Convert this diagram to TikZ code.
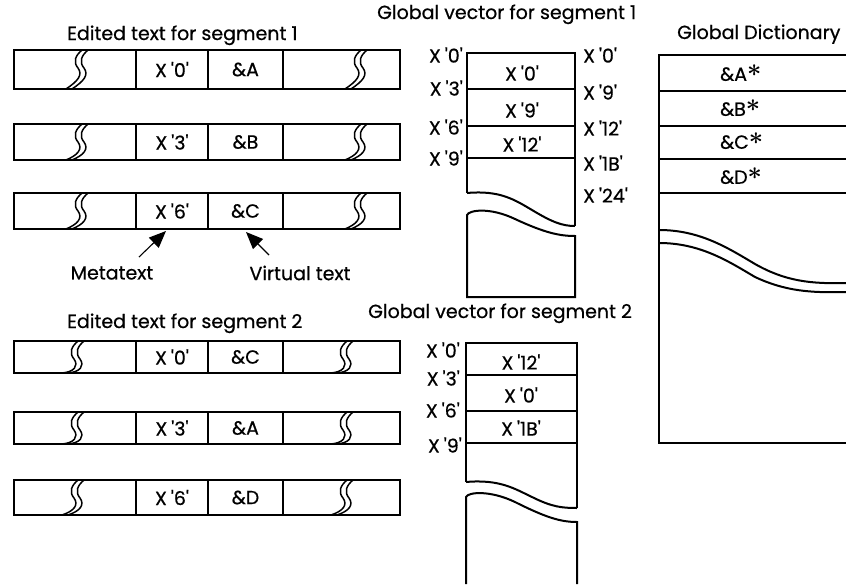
\documentclass[tikz,border=0pt]{standalone}
\usepackage{fontspec}
\newfontfamily\pf{Poppins}[FakeBold=0.6]
\usetikzlibrary{arrows.meta}
\tikzset{
  lbl/.style={font=\pf\fontsize{19}{22}\selectfont, inner sep=0pt},
  cellbox/.style={draw, line width=2pt, inner sep=0pt, font=\pf\fontsize{19}{22}\selectfont},
  brk/.style={line width=1.5pt},
  frame/.style={line width=2pt},
  arr/.style={line width=1.1pt, -{Triangle[length=17pt,width=14pt]}},
}
\newcommand\hx[1]{X\kern4pt'#1'}
\newcommand\dstar{\raisebox{4pt}{\fontsize{24}{24}\selectfont\boldmath$\ast$}}
\newcommand\sbrk[3]{%
  \begin{scope}[shift={(#1,#2)}]
   \foreach \d in {0,6}{
    \draw[brk] (16+\d,0) .. controls (9+\d,6) and (7+\d,12) .. (12+\d,18) .. controls (17+\d,25) and (12+\d,31) .. (0+\d,#3);
   }
  \end{scope}}
\newcommand\erow[7]{%
 \pgfmathsetmacro\ym{(#2+#3)/2}\pgfmathsetmacro\hh{#3-#2}%
 \node[cellbox, minimum width=122pt, minimum height=\hh pt] (#1a) at (75,\ym) {};
 \node[cellbox, minimum width=72pt, minimum height=\hh pt] (#1b) at (172,\ym) {#4};
 \node[cellbox, minimum width=75pt, minimum height=\hh pt] (#1c) at (245.5,\ym) {#5};
 \node[cellbox, minimum width=117pt, minimum height=\hh pt] (#1d) at (341.5,\ym) {};
 \sbrk{#6}{#2}{\hh}
 \sbrk{#7}{#2}{\hh}
}
\begin{document}
\begin{tikzpicture}[x=1pt,y=-1pt]
\fill[white] (0,0) rectangle (846,584);
\useasboundingbox (0,0) rectangle (846,584);

% ---------- titles
\node[lbl, anchor=base west] (t1) at (67,40) {Edited text for segment 1};
\node[lbl, anchor=base west] (t2) at (67,328) {Edited text for segment 2};
\node[lbl, anchor=base west] (t3) at (377,19) {Global vector for segment 1};
\node[lbl, anchor=base west] (t4) at (368,318) {Global vector for segment 2};
\node[lbl, anchor=base west] (t5) at (677,39) {Global Dictionary};

% ---------- edited text rows, segment 1
\erow{sa}{50}{89}{\hx{0}}{\&A}{66}{345}
\erow{sb}{124}{160}{\hx{3}}{\&B}{66}{345}
\erow{sc}{193}{229}{\hx{6}}{\&C}{66}{345}

% ---------- edited text rows, segment 2
\erow{ta}{341}{373}{\hx{0}}{\&C}{62}{331}
\erow{tb}{412}{444}{\hx{3}}{\&A}{62}{331}
\erow{tc}{480}{515}{\hx{6}}{\&D}{62}{331}

% ---------- metatext / virtual text
\node[lbl] (meta) at (112,273) {Metatext};
\node[lbl] (virt) at (300,273) {Virtual text};
\coordinate (mtail) at (139,257);
\coordinate (mtip) at (166,231);
\coordinate (vtail) at (269,255);
\coordinate (vtip) at (246,232);
\draw[arr] (mtail) -- (mtip);
\draw[arr] (vtail) -- (vtip);

% ---------- global vector, segment 1
\draw[frame] (467,193) -- (467,53) -- (575,53) -- (575,226);
\draw[frame] (467,193) .. controls (500,190) and (515,200) .. (532,210) .. controls (552,222) and (562,226) .. (575,226);
\draw[frame] (467,215) .. controls (469,210) and (490,207) .. (515,219) .. controls (545,233) and (560,236) .. (575,236) -- (575,297) -- (467,297) -- cycle;
\draw[frame] (467,89) -- (575,89);
\draw[frame] (467,126) -- (575,126);
\draw[frame] (467,158) -- (575,158);
\node[lbl] (va1) at (522,73) {\hx{0}};
\node[lbl] (va2) at (522,110) {\hx{9}};
\node[lbl] (va3) at (522,144) {\hx{12}};
\node[lbl, anchor=east] (vl0) at (463,55) {\hx{0}};
\node[lbl, anchor=east] (vl3) at (463,88) {\hx{3}};
\node[lbl, anchor=east] (vl6) at (463,127) {\hx{6}};
\node[lbl, anchor=east] (vl9) at (463,158) {\hx{9}};
\node[lbl, anchor=west] (vr0) at (583,55) {\hx{0}};
\node[lbl, anchor=west] (vr9) at (583,92) {\hx{9}};
\node[lbl, anchor=west] (vr12) at (583,128) {\hx{12}};
\node[lbl, anchor=west] (vr1b) at (583,163) {\hx{1B}};
\node[lbl, anchor=west] (vr24) at (583,195) {\hx{24}};

% ---------- global vector, segment 2
\draw[frame] (466,482) -- (466,343) -- (577,343) -- (577,508);
\draw[frame] (466,482) .. controls (500,479) and (515,489) .. (532,497) .. controls (552,507) and (562,508) .. (577,508);
\draw[frame] (466,584) -- (466,497) .. controls (468,492) and (490,490) .. (515,502) .. controls (545,517) and (560,522) .. (577,522) -- (577,584);
\draw[frame] (466,375) -- (577,375);
\draw[frame] (466,411) -- (577,411);
\draw[frame] (466,443) -- (577,443);
\node[lbl] (wa1) at (521,362) {\hx{12}};
\node[lbl] (wa2) at (521,395) {\hx{0}};
\node[lbl] (wa3) at (521,428) {\hx{1B}};
\node[lbl, anchor=east] (wl0) at (460,350) {\hx{0}};
\node[lbl, anchor=east] (wl3) at (460,378) {\hx{3}};
\node[lbl, anchor=east] (wl6) at (460,410) {\hx{6}};
\node[lbl, anchor=east] (wl9) at (462,445) {\hx{9}};

% ---------- global dictionary
\draw[frame] (846,55) -- (659,55) -- (659,443) -- (846,443);
\draw[frame] (659,91) -- (846,91);
\draw[frame] (659,126) -- (846,126);
\draw[frame] (659,159) -- (846,159);
\draw[frame] (659,193) -- (846,193);
\draw[frame] (659,230) .. controls (700,230) and (728,248) .. (755,264) .. controls (785,281) and (810,284) .. (846,283);
\draw[frame] (659,243) .. controls (700,243) and (728,261) .. (755,277) .. controls (785,291) and (810,293) .. (846,292);
\node[lbl, anchor=west] (da) at (720,73) {\&A\dstar};
\node[lbl, anchor=west] (db) at (720,108) {\&B\dstar};
\node[lbl, anchor=west] (dc) at (720,141) {\&C\dstar};
\node[lbl, anchor=west] (dd) at (720,176) {\&D\dstar};
\end{tikzpicture}
\end{document}
